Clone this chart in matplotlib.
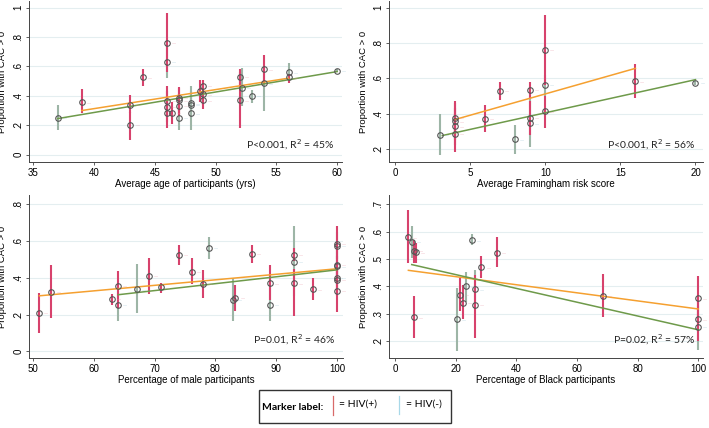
import matplotlib
matplotlib.use("Agg")
import matplotlib.pyplot as plt
from matplotlib.lines import Line2D
from matplotlib.patches import Rectangle

RED = '#d7426c'
GREY = '#9db5a6'
ORANGE = '#f5a030'
GREEN = '#6e9a4a'

# panel 1: average age
age_x = [37, 39, 43, 43, 44, 46, 46, 46, 46, 46, 46.4, 47, 47, 47, 47, 48, 48, 48,
         48.75, 49, 49, 49, 52, 52, 52.2, 53, 54, 54, 56, 56, 60]
age_y = [0.25, 0.355, 0.34, 0.205, 0.525, 0.76, 0.63, 0.365, 0.325, 0.28, 0.285, 0.385, 0.37, 0.33,
         0.25, 0.35, 0.34, 0.28, 0.435, 0.47, 0.41, 0.37, 0.53, 0.37, 0.455, 0.40, 0.58, 0.485,
         0.56, 0.525, 0.57]
age_lo = [0.17, 0.28, 0.28, 0.10, 0.47, 0.56, 0.52, 0.26, 0.22, 0.18, 0.21, 0.30, 0.28, 0.26,
          0.17, 0.26, 0.25, 0.165, 0.36, 0.42, 0.34, 0.31, 0.47, 0.18, 0.33, 0.35, 0.48, 0.30,
          0.50, 0.49, 0.56]
age_hi = [0.34, 0.445, 0.405, 0.29, 0.58, 0.96, 0.74, 0.47, 0.43, 0.38, 0.36, 0.46, 0.45, 0.41,
          0.33, 0.47, 0.43, 0.40, 0.51, 0.51, 0.48, 0.43, 0.58, 0.56, 0.59, 0.44, 0.68, 0.60,
          0.62, 0.55, 0.58]
age_hiv = [0, 1, 1, 1, 1, 1, 0, 1, 1, 1, 1, 1, 1, 1, 0, 0, 0, 0, 1, 1, 1, 1, 1, 1, 0, 0, 1, 0, 0, 1, 0]
age_fit_pos = ([39, 56], [0.30, 0.52])
age_fit_neg = ([37, 60], [0.245, 0.565])

# panel 2: Framingham risk score
fr_x = [3, 4, 4, 4, 4, 6, 7, 8, 9, 9, 9, 10, 10, 10, 16, 20]
fr_y = [0.28, 0.375, 0.356, 0.328, 0.285, 0.37, 0.53, 0.253, 0.533, 0.375, 0.345, 0.76, 0.563,
        0.413, 0.582, 0.573]
fr_lo = [0.166, 0.28, 0.25, 0.22, 0.18, 0.294, 0.477, 0.168, 0.48, 0.28, 0.21, 0.56, 0.50,
         0.317, 0.486, 0.56]
fr_hi = [0.398, 0.47, 0.46, 0.43, 0.40, 0.449, 0.58, 0.337, 0.58, 0.47, 0.48, 0.96, 0.62,
         0.50, 0.68, 0.585]
fr_hiv = [0, 1, 1, 1, 1, 1, 1, 0, 1, 1, 0, 1, 0, 1, 1, 0]
fr_fit_pos = ([4, 16], [0.366, 0.656])
fr_fit_neg = ([3.15, 20], [0.275, 0.592])

# panel 3: percentage male
male_x = [51, 53, 63, 64, 64, 67, 69, 71, 74, 76.2, 78, 79, 82.9, 83.3, 86, 89, 89, 93, 93, 93,
          96, 100, 100, 100, 100, 100, 100, 100]
male_y = [0.208, 0.324, 0.284, 0.355, 0.253, 0.338, 0.41, 0.348, 0.523, 0.434, 0.366, 0.561,
          0.281, 0.29, 0.53, 0.37, 0.253, 0.525, 0.485, 0.37, 0.338, 0.583, 0.574, 0.47, 0.462,
          0.398, 0.389, 0.33]
male_lo = [0.10, 0.18, 0.253, 0.235, 0.165, 0.208, 0.311, 0.317, 0.47, 0.366, 0.29, 0.50,
           0.163, 0.217, 0.48, 0.281, 0.163, 0.49, 0.30, 0.19, 0.28, 0.48, 0.50, 0.38, 0.40,
           0.32, 0.30, 0.214]
male_hi = [0.317, 0.47, 0.313, 0.438, 0.33, 0.474, 0.507, 0.371, 0.579, 0.507, 0.443, 0.624,
           0.398, 0.362, 0.579, 0.467, 0.344, 0.56, 0.679, 0.45, 0.40, 0.679, 0.65, 0.56, 0.52,
           0.47, 0.48, 0.44]
male_hiv = [1, 1, 1, 1, 0, 0, 1, 1, 1, 1, 1, 0, 0, 1, 1, 1, 0, 1, 0, 1, 1, 1, 0, 1, 0, 0, 1, 1]
male_fit_pos = ([51, 100], [0.302, 0.449])
male_fit_neg = ([64, 100], [0.308, 0.443])

# panel 4: percentage Black
blk_x = [4.4, 5.5, 6.3, 6.8, 6.3, 20.3, 21.4, 22.4, 23.5, 25.4, 26.5, 26.5, 28.5, 33.7, 68.5,
         100, 100, 100]
blk_y = [0.58, 0.563, 0.53, 0.525, 0.287, 0.28, 0.37, 0.341, 0.40, 0.569, 0.39, 0.332, 0.47,
         0.524, 0.367, 0.357, 0.28, 0.252]
blk_lo = [0.485, 0.503, 0.485, 0.485, 0.212, 0.164, 0.31, 0.28, 0.345, 0.552, 0.33, 0.212, 0.43,
          0.47, 0.287, 0.272, 0.20, 0.17]
blk_hi = [0.679, 0.622, 0.57, 0.557, 0.364, 0.394, 0.43, 0.406, 0.452, 0.59, 0.461, 0.443, 0.51,
          0.58, 0.445, 0.439, 0.36, 0.33]
blk_hiv = [1, 0, 1, 1, 1, 0, 1, 1, 0, 0, 0, 1, 1, 1, 1, 1, 1, 0]
blk_fit_pos = ([4.4, 100], [0.459, 0.318])
blk_fit_neg = ([5.5, 100], [0.48, 0.242])

panels = [
    dict(x=age_x, y=age_y, lo=age_lo, hi=age_hi, hiv=age_hiv, fp=age_fit_pos, fn=age_fit_neg,
         xlabel='Average age of participants (yrs)', xlim=(34.65, 60.4), ylim=(-0.05, 1.045),
         xticks=[35, 40, 45, 50, 55, 60], yticks=[0, .2, .4, .6, .8, 1],
         ytl=['0', '.2', '.4', '.6', '.8', '1'], note='P<0.001, R$^2$ = 45%',
         pos=[29, 1, 342, 162]),
    dict(x=fr_x, y=fr_y, lo=fr_lo, hi=fr_hi, hiv=fr_hiv, fp=fr_fit_pos, fn=fr_fit_neg,
         xlabel='Average Framingham risk score', xlim=(-0.4, 20.5), ylim=(0.125, 1.038),
         xticks=[0, 5, 10, 15, 20], yticks=[.2, .4, .6, .8, 1],
         ytl=['.2', '.4', '.6', '.8', '1'], note='P<0.001, R$^2$ = 56%',
         pos=[389, 1, 703, 162]),
    dict(x=male_x, y=male_y, lo=male_lo, hi=male_hi, hiv=male_hiv, fp=male_fit_pos, fn=male_fit_neg,
         xlabel='Percentage of male participants', xlim=(49.3, 101.0), ylim=(-0.036, 0.85),
         xticks=[50, 60, 70, 80, 90, 100], yticks=[0, .2, .4, .6, .8],
         ytl=['0', '.2', '.4', '.6', '.8'], note='P=0.01, R$^2$ = 46%',
         pos=[29, 195, 343, 358]),
    dict(x=blk_x, y=blk_y, lo=blk_lo, hi=blk_hi, hiv=blk_hiv, fp=blk_fit_pos, fn=blk_fit_neg,
         xlabel='Percentage of Black participants', xlim=(-2, 101.6), ylim=(0.139, 0.734),
         xticks=[0, 20, 40, 60, 80, 100], yticks=[.2, .3, .4, .5, .6, .7],
         ytl=['.2', '.3', '.4', '.5', '.6', '.7'], note='P=0.02, R$^2$ = 57%',
         pos=[389, 195, 703, 358]),
]

W, H = 709, 428
fig = plt.figure(figsize=(W / 100, H / 100), dpi=100)

for p in panels:
    l, t, r, b = p['pos']
    ax = fig.add_axes([l / W, 1 - b / H, (r - l) / W, (b - t) / H])
    for yt in p['yticks']:
        ax.axhline(yt, color='#e4eef0', lw=0.8, zorder=0)
    # error bars, grey first then red on top
    for grp, col, z in [(0, GREY, 2), (1, RED, 3)]:
        for xi, lo, hi, g in zip(p['x'], p['lo'], p['hi'], p['hiv']):
            if g == grp:
                ax.plot([xi, xi], [lo, hi], color=col, lw=1.5, solid_capstyle='butt', zorder=z)
    ax.plot(p['fp'][0], p['fp'][1], color=ORANGE, lw=1.1, zorder=4)
    ax.plot(p['fn'][0], p['fn'][1], color=GREEN, lw=1.1, zorder=4)
    ax.plot(p['x'], p['y'], 'o', ms=4, mfc='none', mec='#555555', mew=0.8, zorder=5)
    for xi, yi, g in zip(p['x'], p['y'], p['hiv']):
        ax.annotate('—', (xi, yi), xytext=(3.5, -0.5), textcoords='offset points',
                    fontsize=3, va='center', color='#e89aa8' if g else '#9cc4d4', zorder=5)
    ax.set_xlim(p['xlim'])
    ax.set_ylim(p['ylim'])
    ax.set_xticks(p['xticks'])
    ax.set_yticks(p['yticks'])
    ax.set_yticklabels(p['ytl'], rotation=90, va='center')
    ax.tick_params(labelsize=7, length=2.5, width=0.6, color='#444444', pad=1.5)
    for s in ['top', 'right']:
        ax.spines[s].set_visible(False)
    for s in ['left', 'bottom']:
        ax.spines[s].set_color('#444444')
        ax.spines[s].set_linewidth(0.7)
    ax.set_xlabel(p['xlabel'], fontsize=7, family='Liberation Sans', labelpad=1)
    ax.set_ylabel('Proportion with CAC > 0', fontsize=6.8, family='Liberation Sans')
    ax.yaxis.set_label_coords(-21.5 / (r - l), 0.5)
    for lab in ax.get_xticklabels() + ax.get_yticklabels():
        lab.set_family('Liberation Sans')
    ax.text(0.975, 0.11, p['note'], transform=ax.transAxes, ha='right', va='center',
            fontsize=7.5, family='Lato', color='#222222')

# legend box
fig.add_artist(Rectangle((259 / W, 1 - 423 / H), 192 / W, 33 / H, transform=fig.transFigure,
                         fill=False, edgecolor='#333333', lw=1.0))
fig.text(262 / W, 1 - 407 / H, 'Marker label:', fontsize=7.5, fontweight='bold', family='Lato',
         va='center', ha='left')
fig.add_artist(Line2D([333 / W, 333 / W], [1 - 415 / H, 1 - 396 / H], color='#d86a6a', lw=0.9))
fig.text(339 / W, 1 - 404 / H, '= HIV(+)', fontsize=7.5, family='Lato', va='center', ha='left')
fig.add_artist(Line2D([399 / W, 399 / W], [1 - 414 / H, 1 - 396 / H], color='#a8d8e8', lw=0.9))
fig.text(406 / W, 1 - 404 / H, '= HIV(-)', fontsize=7.5, family='Lato', va='center', ha='left')

fig.savefig('out.png', dpi=100)
